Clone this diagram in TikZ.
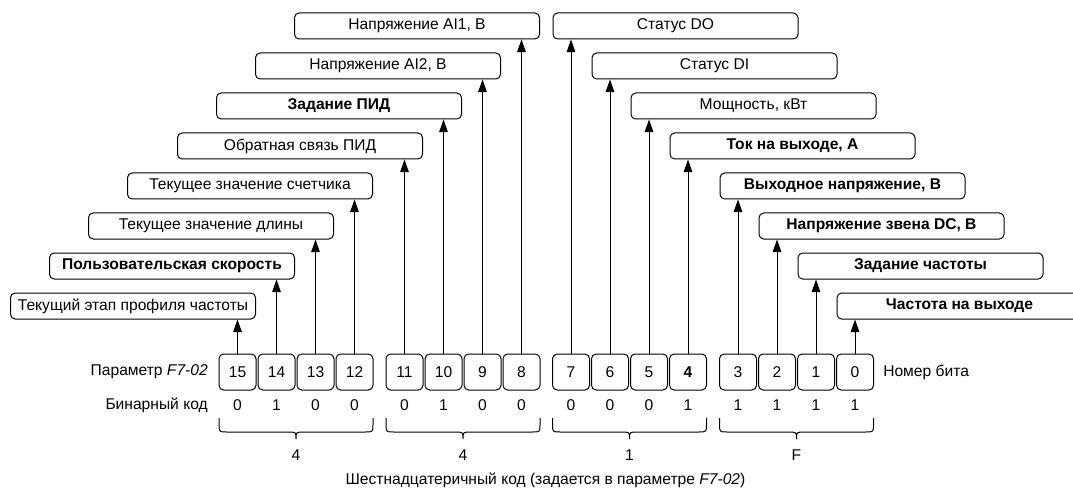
\documentclass[tikz,border=0pt]{standalone}
\usepackage{fontspec}
\setmainfont{Liberation Sans}
\usetikzlibrary{arrows.meta}
\begin{document}
\begin{tikzpicture}[x=0.75pt,y=-0.75pt,
  font=\fontsize{11.7pt}{14pt}\selectfont,
  lblbox/.style={draw=black, line width=0.75pt, rounded corners=3.5pt,
    minimum width=183.75pt, minimum height=19.5pt, inner sep=0pt, anchor=center},
  bitbox/.style={draw=black, line width=0.75pt, rounded corners=3.5pt,
    minimum width=27.75pt, minimum height=27pt, inner sep=0pt},
  arr/.style={line width=0.75pt, -{Triangle[length=9.5pt,width=6.5pt]}},
  brc/.style={line width=0.75pt},
  plain/.style={inner sep=0pt}
]
\useasboundingbox (0,0) rectangle (1073,488);
\clip (0,0) rectangle (1073,488);

% bit boxes
\foreach \b/\x/\d in {15/237.5/0, 14/276.5/1, 13/315.5/0, 12/354.5/0,
                      11/404.5/0, 10/443.5/1, 9/482.5/0, 8/521.5/0,
                      7/571/0, 6/610/0, 5/649/0, 3/738/1, 2/777/1, 1/816/1, 0/855/1}{
  \node[bitbox] (b\b) at (\x,372) {\b};
  \node[plain] (d\b) at (\x,405) {\d};
}
\node[bitbox] (b4) at (688,372) {\textbf{4}};
\node[plain] (d4) at (688,405) {1};

% left label boxes (right edge = arrow + 18)
\foreach \b/\x/\r/\t in {
  15/237.5/7/{Текущий этап профиля частоты},
  14/276.5/6/{\textbf{Пользовательская скорость}},
  13/315.5/5/{Текущее значение длины},
  12/354.5/4/{Текущее значение счетчика},
  11/404.5/3/{Обратная связь ПИД},
  10/443.5/2/{\textbf{Задание ПИД}},
  9/482.5/1/{Напряжение AI2, В},
  8/521.5/0/{Напряжение AI1, В}}{
  \node[lblbox] (l\b) at ({\x-104.5},{26+40*\r}) {\t};
  \draw[arr] (b\b.north) -- (b\b.north |- l\b.south);
}

% right label boxes (left edge = arrow - 18)
\foreach \b/\x/\r/\t in {
  7/571/0/{Статус DO},
  6/610/1/{Статус DI},
  5/649/2/{Мощность, кВт},
  4/688/3/{\textbf{Ток на выходе, А}},
  3/738/4/{\textbf{Выходное напряжение, В}},
  2/777/5/{\textbf{Напряжение звена DC, В}},
  1/816/6/{\textbf{Задание частоты}},
  0/855/7/{\textbf{Частота на выходе}}}{
  \node[lblbox] (l\b) at ({\x+104.5},{26+40*\r}) {\t};
  \draw[arr] (b\b.north) -- (b\b.north |- l\b.south);
}

% side labels
\node[plain, anchor=east] (par) at (208,372) {Параметр \textit{F7-02}};
\node[plain, anchor=east] (bin) at (208,405) {Бинарный код};
\node[plain, anchor=west] (num) at (883,372) {Номер бита};

% braces
\foreach \xa/\xb/\v/\n in {219/373/4/ga, 386/540/4/gb, 552.5/706.5/1/gc, 719.5/873.5/F/gd}{
  \pgfmathsetmacro{\xm}{(\xa+\xb)/2}
  \draw[brc] (\xa,418) -- (\xa,424) .. controls (\xa,432) .. ({\xa+8},432)
     -- ({\xm-8},432) .. controls (\xm,432) .. (\xm,439)
     .. controls (\xm,432) .. ({\xm+8},432)
     -- ({\xb-8},432) .. controls (\xb,432) .. (\xb,424) -- (\xb,418);
  \node[plain] (\n) at (\xm,455) {\v};
}

\node[plain] (hex) at (545.5,480) {Шестнадцатеричный код (задается в параметре \textit{F7-02})};
\end{tikzpicture}
\end{document}
